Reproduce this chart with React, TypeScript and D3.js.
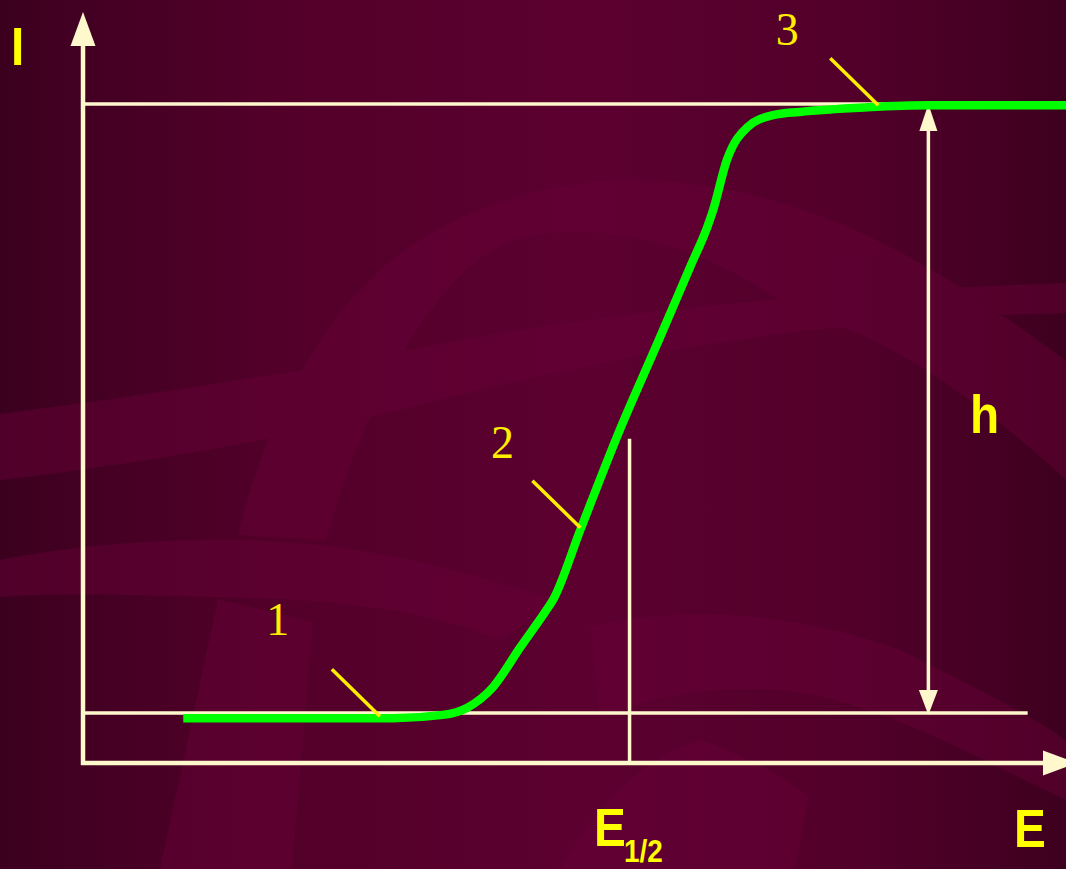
import * as d3 from 'd3';

const WIDTH = 1066;
const HEIGHT = 869;

// polarographic wave: potential E (arb. units) vs current I (% of limiting current)
const potential = [10.2, 31.5, 36.6, 39.1, 41.7, 44.5, 47.0, 47.8, 50.6, 54.4, 58.7, 61.8, 63.5, 64.1, 65.5, 67.6, 70.2, 72.9, 79.8, 86.0, 100];
const current = [6.8, 6.8, 7.3, 8.4, 11.5, 17.6, 22.9, 24.7, 35.4, 49.8, 64.6, 75.4, 81.3, 83.9, 91.5, 96.5, 98.3, 98.8, 99.5, 99.8, 99.8];

// reference levels
const LIMIT_I = 100;
const RESIDUAL_I = 7.6;
const E_HALF = 55.6;
const E_HALF_TOP_I = 49.2;
const H_E = 86.0;
const RESIDUAL_END_E = 96.1;

// numbered points on the wave
const markLabels = ['1', '2', '3'];
const markE = [30.2, 50.6, 80.9];
const markI = [7.1, 35.7, 99.8];
const labelDx = [-102, -78, -91];
const labelDy = [-81, -70, -60];

const xScale = d3.scaleLinear().domain([0, 100]).range([83, 1066]);
const yScale = d3.scaleLinear().domain([0, 100]).range([763, 104]);

const AXIS = '#fff8cc';
const YELLOW = '#ffff00';
const NUM = '#ffee00';
const GREEN = '#00ff00';
const BOLD_FONT = "'Liberation Sans', Arial, sans-serif";
const SERIF = "'Liberation Serif', 'Times New Roman', serif";

// decorative swooshes of the slide background
const swooshes = [
  'M0,414 C150,395 300,372 420,348 C600,312 800,292 1066,283 L1066,313 C850,318 650,345 420,405 C280,440 130,465 0,480 Z',
  'M238,535 C260,440 320,300 420,240 C500,190 600,170 700,185 C850,205 970,290 1066,361 L1066,480 C980,400 880,330 800,315 C700,240 600,220 520,238 C430,265 360,420 326,540 Z',
  'M0,560 C100,540 250,530 374,553 C450,566 520,590 560,600 L500,640 C430,610 330,600 250,598 C150,596 70,592 0,597 Z',
  'M218,599 L313,622 L292,869 L160,869 Z',
  'M591,627 C700,600 820,620 900,650 C980,690 1040,720 1066,741 L1066,800 C980,760 880,700 780,690 C700,685 640,700 600,720 Z',
  'M560,869 C600,800 640,760 700,740 C760,760 800,790 809,796 L795,869 Z',
];

function BoldLabel({ x, y, size, children }: { x: number; y: number; size: number; children: any }) {
  return (
    <text transform={`translate(${x},${y}) scale(0.9,1)`} fontSize={size}>
      {children}
    </text>
  );
}

function App() {
  const line = d3
    .line<number>()
    .x((_, i) => xScale(potential[i]))
    .y((_, i) => yScale(current[i]))
    .curve(d3.curveMonotoneX);

  const x0 = xScale(0);
  const y0 = yScale(0);
  const yTop = yScale(LIMIT_I);
  const yRes = yScale(RESIDUAL_I);
  const xH = xScale(H_E);
  const xHalf = xScale(E_HALF);

  return (
    <svg
      width={WIDTH}
      height={HEIGHT}
      style={{ position: 'fixed', left: 0, top: 0, display: 'block' }}
    >
      <defs>
        <linearGradient id="bg" x1="0" x2="1" y1="0" y2="0">
          <stop offset="0%" stopColor="#3c001f" />
          <stop offset="25%" stopColor="#520029" />
          <stop offset="55%" stopColor="#5c0030" />
          <stop offset="80%" stopColor="#52002a" />
          <stop offset="100%" stopColor="#3e001f" />
        </linearGradient>
      </defs>
      <rect width={WIDTH} height={HEIGHT} fill="url(#bg)" />
      <g fill="#680038" opacity={0.45}>
        {swooshes.map((d, i) => (
          <path key={i} d={d} />
        ))}
      </g>

      {/* reference lines */}
      <g stroke={AXIS} strokeWidth={3.5} fill="none">
        <line x1={x0} x2={xH} y1={yTop} y2={yTop} />
        <line x1={x0} x2={xScale(RESIDUAL_END_E)} y1={yRes} y2={yRes} />
        <line x1={xHalf} x2={xHalf} y1={yScale(E_HALF_TOP_I)} y2={y0} />
        <line x1={xH} x2={xH} y1={yTop + 20} y2={yRes - 20} />
      </g>
      <g fill={AXIS}>
        <path d={`M${xH},${yTop} L${xH - 9},${yTop + 27} L${xH + 9},${yTop + 27} Z`} />
        <path d={`M${xH},${yRes + 2} L${xH - 9.5},${yRes - 23} L${xH + 9.5},${yRes - 23} Z`} />
      </g>

      {/* axes */}
      <g stroke={AXIS} strokeWidth={4.5}>
        <line x1={x0} x2={x0} y1={y0 + 2} y2={44} />
        <line x1={x0 - 2} x2={1045} y1={y0} y2={y0} />
      </g>
      <g fill={AXIS}>
        <path d={`M${x0},12 L${x0 - 12.5},46 L${x0 + 12.5},46 Z`} />
        <path d={`M1077,${y0} L1043,${y0 - 12.5} L1043,${y0 + 12.5} Z`} />
      </g>

      {/* wave */}
      <path
        d={line(potential) ?? ''}
        fill="none"
        stroke={GREEN}
        strokeWidth={8.5}
        strokeLinejoin="round"
      />

      {/* numbered leaders */}
      {markLabels.map((t, i) => {
        const ax = xScale(markE[i]);
        const ay = yScale(markI[i]);
        return (
          <g key={t}>
            <line x1={ax - 48} y1={ay - 47} x2={ax} y2={ay} stroke={NUM} strokeWidth={3.5} />
            <text
              x={ax + labelDx[i]}
              y={ay + labelDy[i]}
              textAnchor="middle"
              fill={NUM}
              fontFamily={SERIF}
              fontSize={46}
            >
              {t}
            </text>
          </g>
        );
      })}

      {/* axis labels */}
      <g fill={YELLOW} fontFamily={BOLD_FONT} fontWeight="bold">
        <BoldLabel x={11} y={65} size={53}>I</BoldLabel>
        <BoldLabel x={1014} y={847} size={53}>E</BoldLabel>
        <BoldLabel x={970} y={433} size={53}>h</BoldLabel>
        <BoldLabel x={594} y={846} size={53}>
          E
          <tspan fontSize={31} dx={-2} dy={16}>1/2</tspan>
        </BoldLabel>
      </g>
    </svg>
  );
}

export default App;
